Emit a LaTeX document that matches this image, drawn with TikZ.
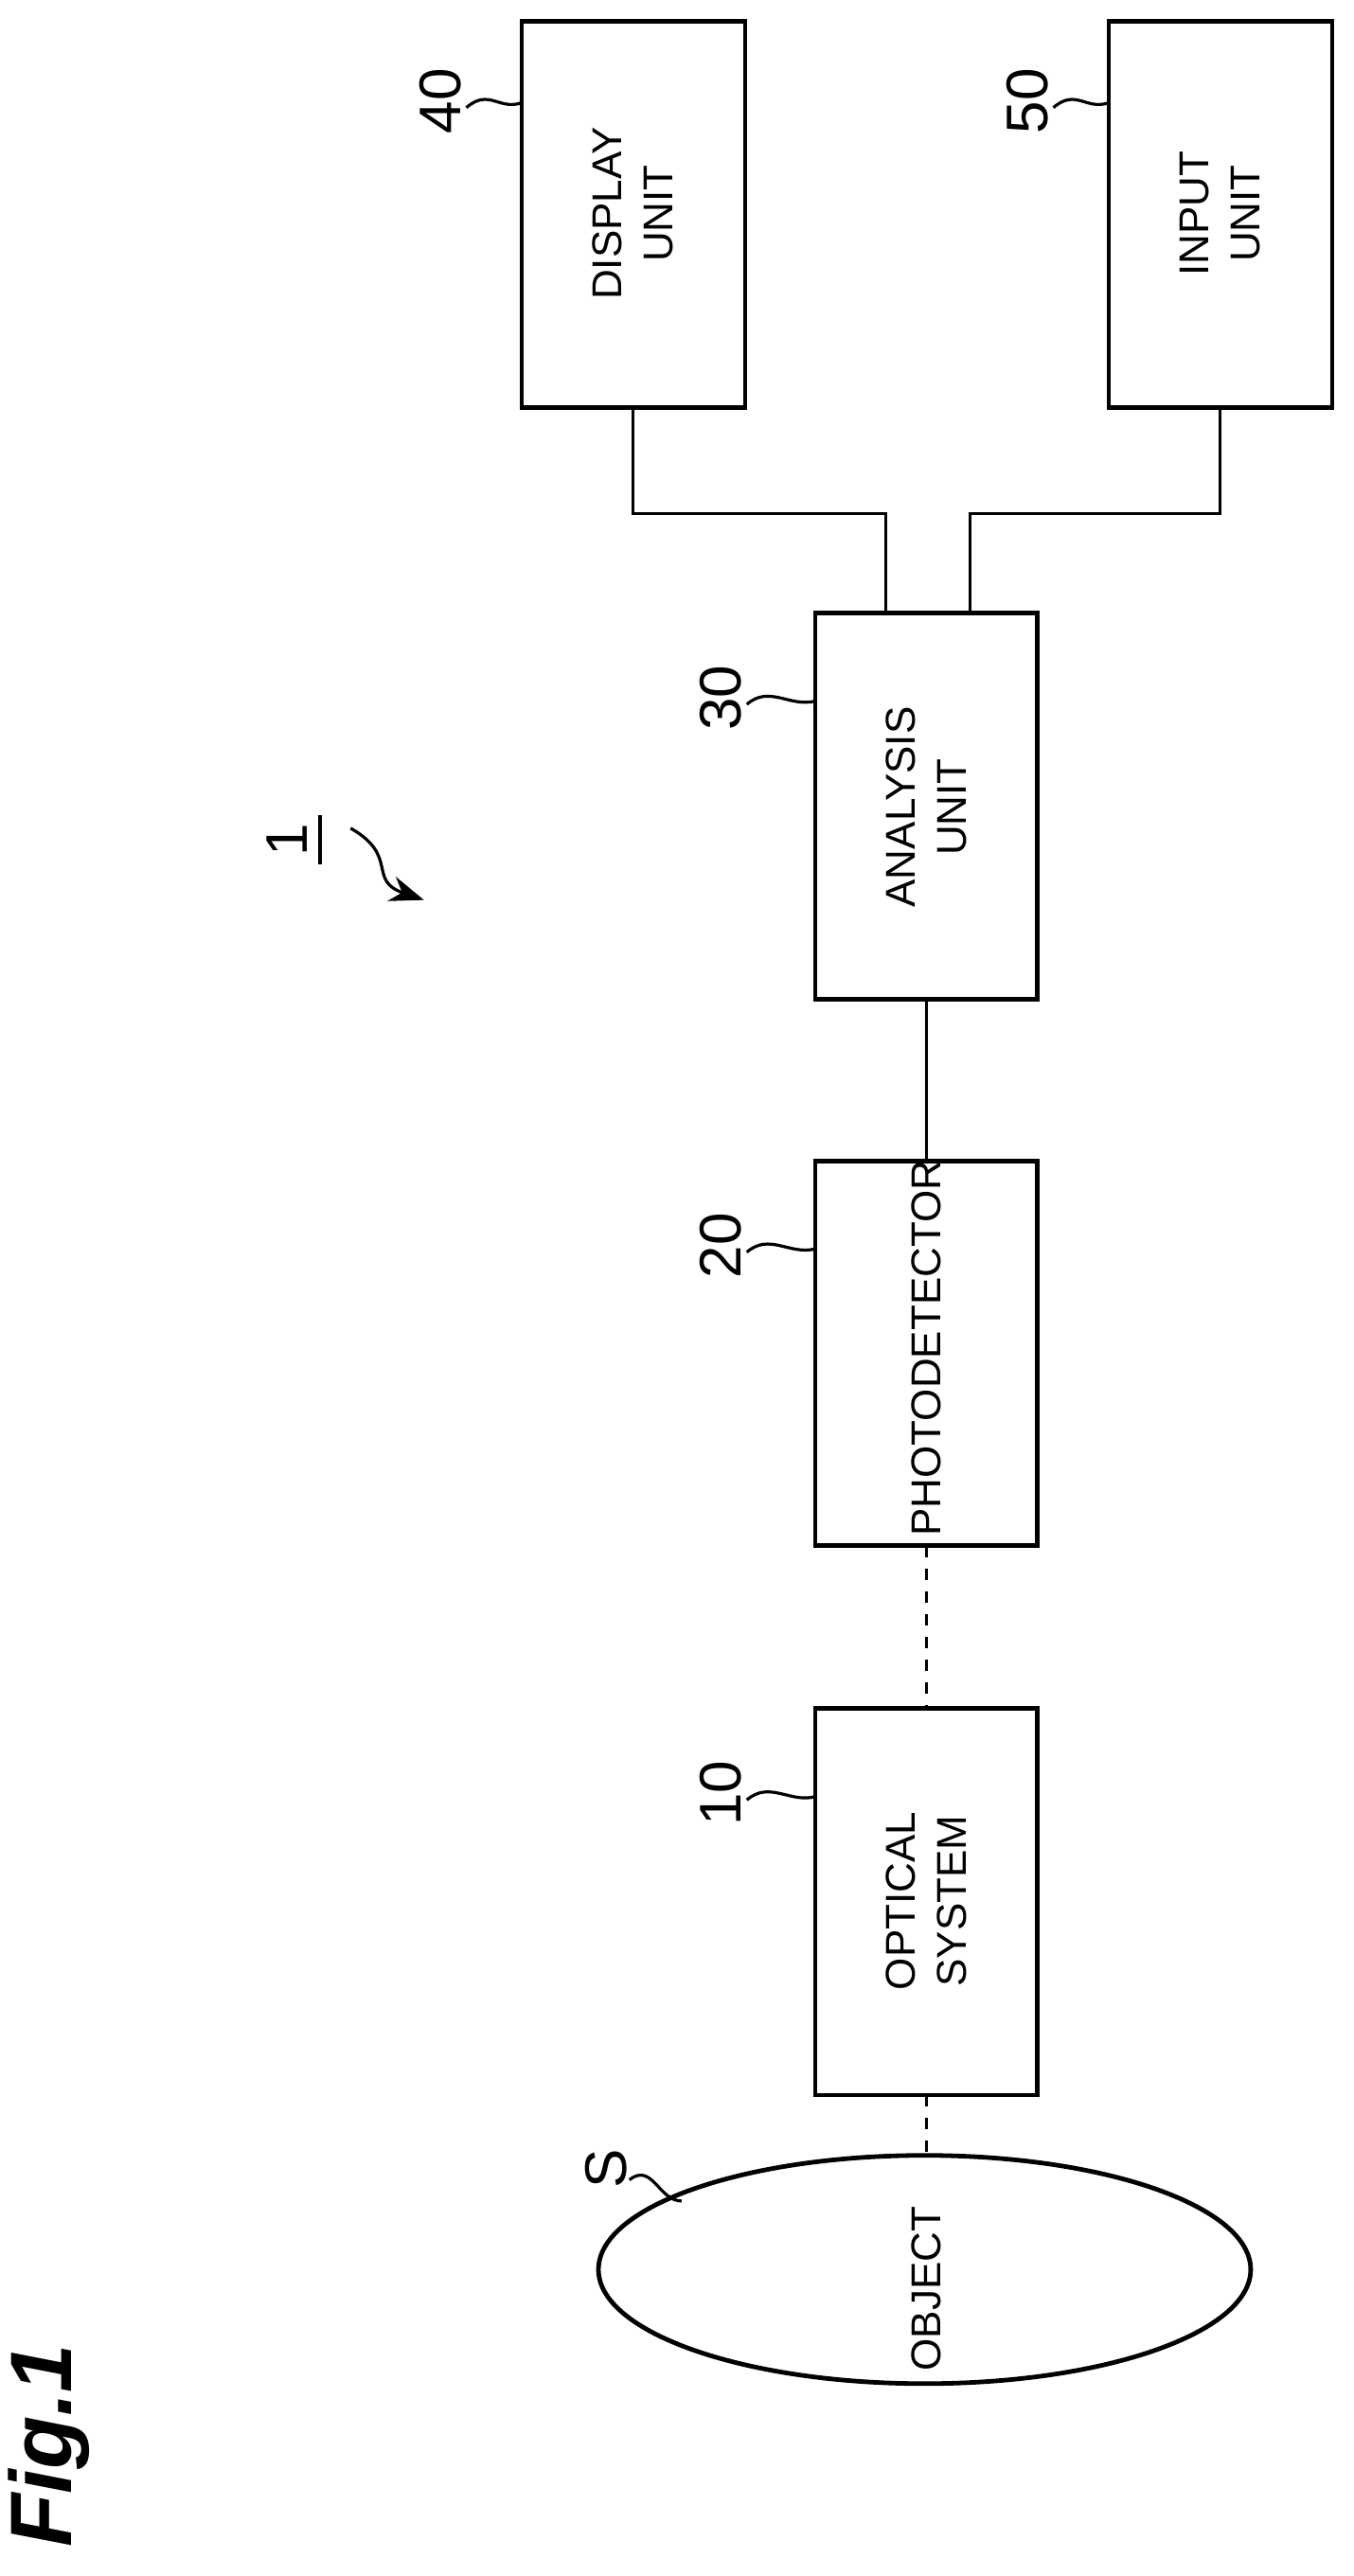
\documentclass[tikz,border=0pt]{standalone}
\usepackage{fontspec}
\setmainfont{Liberation Sans}
\usetikzlibrary{shapes.geometric,arrows.meta}
\begin{document}
\begin{tikzpicture}[x=0.4305pt,y=-0.4305pt,
  lbl/.style={rotate=90,font=\fontsize{11}{13.5}\selectfont,align=center,inner sep=1pt},
  num/.style={rotate=90,font=\fontsize{15.5}{17}\selectfont},
  lead/.style={line width=0.8pt}]
\useasboundingbox (0,0) rectangle (830,1580);

% boxes
\draw [line width=1.2pt] (320,13) rectangle (457,250);
\draw [line width=1.2pt] (680,13) rectangle (817,250);
\draw [line width=1.2pt] (500,376) rectangle (636,613);
\draw [line width=1.2pt] (500,712) rectangle (636,948);
\draw [line width=1.2pt] (500,1048) rectangle (636,1285);
\draw [line width=1.2pt] (567,1392) ellipse (200 and 70);

\node (display) [lbl] at (388,131) {DISPLAY\\UNIT};
\node (input) [lbl] at (748,131) {INPUT\\UNIT};
\node (analysis) [lbl] at (568,495) {ANALYSIS\\UNIT};
\node (photo) [lbl,anchor=west] at (568,945) {PHOTODETECTOR};
\node (optical) [lbl] at (568,1166) {OPTICAL\\SYSTEM};
\node (object) [lbl,anchor=west] at (568,1457) {OBJECT};

% connectors
\coordinate (dtop) at (388,250);
\coordinate (itop) at (748,250);
\draw [line width=0.8pt] (dtop) -- (388,315) -- (543,315) -- (543,376);
\draw [line width=0.8pt] (itop) -- (748,315) -- (595,315) -- (595,376);
\draw [line width=0.8pt] (568,613) -- (568,712);
\draw [line width=0.8pt,dashed] (568,948) -- (568,1048);
\draw [line width=0.8pt,dashed] (568,1285) -- (568,1322);

% reference numerals
\node (n40) [num] at (270,62) {40};
\node (n50) [num] at (630,62) {50};
\node (n30) [num] at (442,428) {30};
\node (n20) [num] at (442,764) {20};
\node (n10) [num] at (442,1100) {10};
\node (nS) [num] at (372,1330) {S};
\draw [lead] (286,66) .. controls (300,54) and (306,68) .. (320,63);
\draw [lead] (646,66) .. controls (660,54) and (666,68) .. (680,63);
\draw [lead] (458,432) .. controls (472,420) and (484,434) .. (500,430);
\draw [lead] (458,768) .. controls (472,756) and (484,770) .. (500,766);
\draw [lead] (458,1104) .. controls (472,1092) and (484,1106) .. (500,1102);
\draw [lead] (386,1337) .. controls (400,1326) and (404,1350) .. (418,1350);

\node (n1) [num] at (176,515) {1};
\draw [line width=1pt] (196,500) -- (196,530);
\draw [lead,-{Stealth[length=9pt]}] (215,508) .. controls (245,525) and (225,540) .. (260,552);

\node [rotate=90,font=\fontsize{23}{25}\selectfont\bfseries\itshape] at (30,1500) {Fig.1};
\end{tikzpicture}
\end{document}
